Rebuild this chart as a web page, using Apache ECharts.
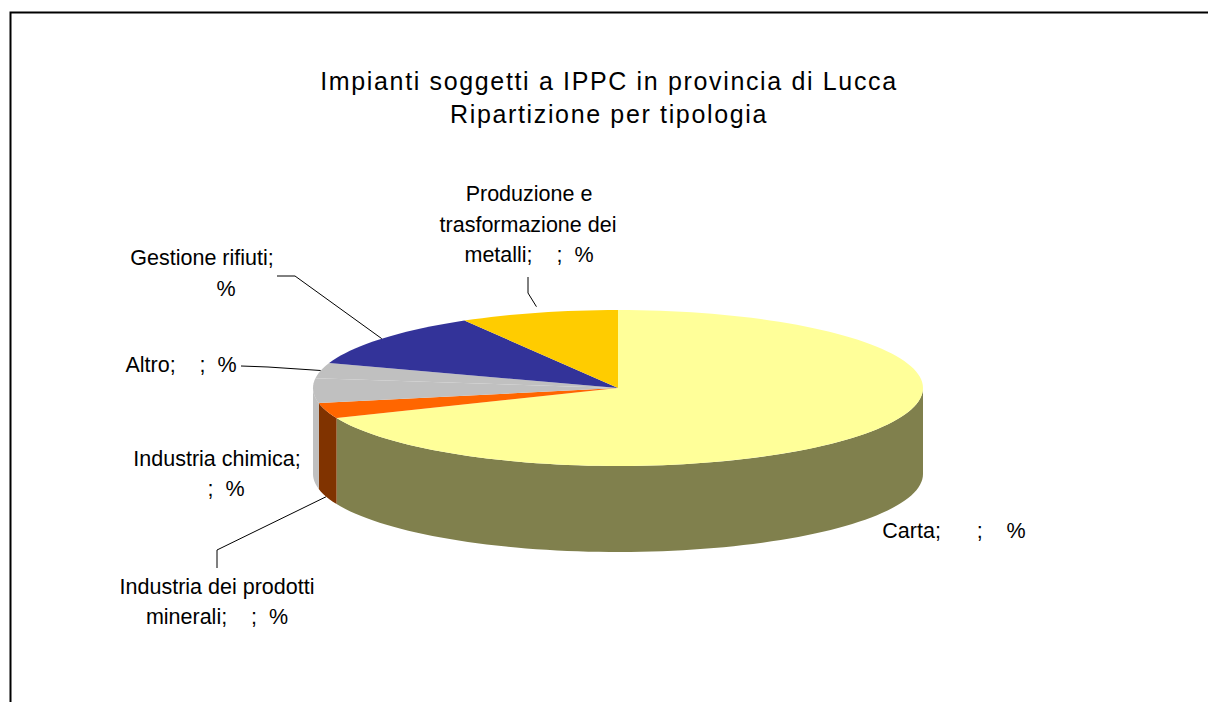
<!DOCTYPE html>
<html>
<head>
<meta charset="utf-8">
<title>Impianti soggetti a IPPC</title>
<script src="https://cdn.jsdelivr.net/npm/echarts@6/dist/echarts.min.js"></script>
<style>
  html, body { margin: 0; padding: 0; background: #fff; }
  #chart { width: 1208px; height: 702px; }
</style>
</head>
<body>
<div id="chart"></div>
<script>
// clockwise from 12 o'clock, share of plants in %
var categories = ['Carta', 'Industria dei prodotti minerali', 'Industria chimica', 'Altro', 'Gestione rifiuti', 'Produzione e trasformazione dei metalli'];
var values = [68.7, 3.2, 5.1, 3.2, 11.4, 8.4];
var topColors = ['#FFFF99', '#FF6600', '#C0C0C0', '#C0C0C0', '#333399', '#FFCC00'];
var sideColors = ['#80804D', '#803300', '#C0C0C0', '#C0C0C0', '#1A1A4D', '#806600'];
var titleLines = ['Impianti soggetti a IPPC in provincia di Lucca', 'Ripartizione per tipologia'];

// label lines of every slice
var labelTexts = [
  ['Carta;      ;    %'],
  ['Industria dei prodotti', 'minerali;    ;  %'],
  ['Industria chimica;', ';  %'],
  ['Altro;    ;  %'],
  ['Gestione rifiuti;', '%'],
  ['Produzione e', 'trasformazione dei', 'metalli;    ;  %']
];

// layout of the pie
var cx = 618, cy = 388, rx = 305, ry = 78, depth = 86;
var labelPos = [
  [[954, 531]],
  [[217, 587], [217, 617]],
  [[217, 459], [226, 489]],
  [[181, 365]],
  [[202, 258], [226, 289]],
  [[529, 194], [528, 225], [529, 255]]
];
// fixed part of each leader, the last point is worked out from the slice
var leaderPts = {
  1: [[217, 568], [217, 550]],
  3: [[241, 366], [268, 367]],
  4: [[277, 276], [295, 276]],
  5: [[528, 277], [528, 293]]
};

var total = values.reduce(function (a, b) { return a + b; }, 0);
var startAngles = [];
values.reduce(function (sum, v, i) {
  startAngles[i] = sum / total * 360;
  return sum + v;
}, 0);

function ellipsePt(deg, drop) {
  var a = deg * Math.PI / 180;
  return [cx + rx * Math.sin(a), cy - ry * Math.cos(a) + (drop || 0)];
}

function arcPts(from, to, drop) {
  var pts = [];
  var n = Math.max(2, Math.ceil((to - from) / 2));
  for (var i = 0; i <= n; i++) {
    pts.push(ellipsePt(from + (to - from) * i / n, drop));
  }
  return pts;
}

function renderSlice(params, api) {
  var i = params.dataIndex;
  var from = startAngles[i];
  var to = from + api.value(0) / total * 360;
  var children = [];
  // wall, only the front half of the disc shows
  var a = Math.max(from, 90), b = Math.min(to, 270);
  if (b > a) {
    children.push({
      type: 'polygon',
      shape: { points: arcPts(a, b, 0).concat(arcPts(a, b, depth).reverse()) },
      style: { fill: sideColors[i] }
    });
  }
  children.push({
    type: 'polygon',
    shape: { points: [[cx, cy]].concat(arcPts(from, to, 0)) },
    style: { fill: topColors[i] }
  });
  return { type: 'group', children: children };
}

var graphics = [{
  type: 'rect',
  silent: true,
  shape: { x: 10.5, y: 12.5, width: 1400, height: 900 },
  style: { fill: 'none', stroke: '#000', lineWidth: 2 }
}];

titleLines.forEach(function (line, j) {
  graphics.push({
    type: 'text',
    x: 609,
    y: 81 + j * 33,
    style: {
      text: line,
      fill: '#000',
      font: '25px "Liberation Sans", Arial, sans-serif',
      textAlign: 'center',
      textVerticalAlign: 'middle'
    }
  });
});

labelTexts.forEach(function (lines, i) {
  lines.forEach(function (line, j) {
    graphics.push({
      type: 'text',
      x: labelPos[i][j][0],
      y: labelPos[i][j][1],
      style: {
        text: line,
        fill: '#000',
        font: '21.5px "Liberation Sans", Arial, sans-serif',
        textAlign: 'center',
        textVerticalAlign: 'middle'
      }
    });
  });
});

Object.keys(leaderPts).forEach(function (key) {
  var i = +key;
  var mid = startAngles[i] + values[i] / total * 180;
  var end = ellipsePt(mid, 0);
  if (i === 1) {
    end = ellipsePt(mid, depth);   // minerali points at the wall
  }
  if (i === 5) {
    end = [end[0] - 2, end[1] - 6];  // this one stops short of the edge
  }
  graphics.push({
    type: 'polyline',
    silent: true,
    shape: { points: leaderPts[i].concat([end]) },
    style: { fill: 'none', stroke: '#000', lineWidth: 1 }
  });
});

var chart = echarts.init(document.getElementById('chart'), null, { renderer: 'svg' });
chart.setOption({
  backgroundColor: '#fff',
  animation: false,
  tooltip: { show: false },
  graphic: graphics,
  series: [{
    type: 'custom',
    coordinateSystem: 'none',
    silent: true,
    renderItem: renderSlice,
    data: values.map(function (v, i) { return { name: categories[i], value: [v] }; })
  }]
});

// the title is letter spaced in the original, zrender has no option for it
chart.getDom().querySelectorAll('text').forEach(function (el) {
  if (titleLines.indexOf(el.textContent) >= 0) {
    el.style.letterSpacing = '1.65px';
  }
});
</script>
</body>
</html>
